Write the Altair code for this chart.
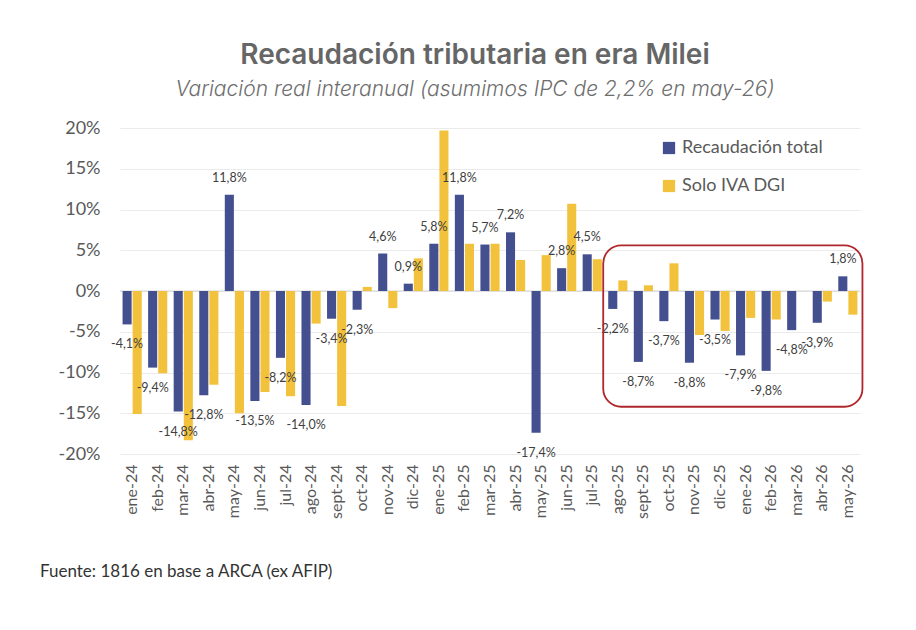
import altair as alt
import pandas as pd

months = ["ene-24", "feb-24", "mar-24", "abr-24", "may-24", "jun-24", "jul-24", "ago-24",
          "sept-24", "oct-24", "nov-24", "dic-24", "ene-25", "feb-25", "mar-25", "abr-25",
          "may-25", "jun-25", "jul-25", "ago-25", "sept-25", "oct-25", "nov-25", "dic-25",
          "ene-26", "feb-26", "mar-26", "abr-26", "may-26"]
total = [-4.1, -9.4, -14.8, -12.8, 11.8, -13.5, -8.2, -14.0, -3.4, -2.3, 4.6, 0.9,
         5.8, 11.8, 5.7, 7.2, -17.4, 2.8, 4.5, -2.2, -8.7, -3.7, -8.8, -3.5,
         -7.9, -9.8, -4.8, -3.9, 1.8]
iva = [-15.1, -10.1, -18.3, -11.5, -15.0, -12.4, -12.9, -4.0, -14.1, 0.5, -2.1, 4.0,
       19.7, 5.8, 5.8, 3.8, 4.4, 10.7, 3.9, 1.3, 0.7, 3.4, -5.4, -4.9,
       -3.3, -3.5, None, -1.3, -2.9]
series = ["Recaudación total", "Solo IVA DGI"]
colors = ["#434F8E", "#F3C23D"]
y_ticks = [-20, -15, -10, -5, 0, 5, 10, 15, 20]
title = "Recaudación tributaria en era Milei"
subtitle = "Variación real interanual (asumimos IPC de 2,2% en may-26)"
note = "Fuente: 1816 en base a ARCA (ex AFIP)"
# highlighted period box
box_start, box_end = "ago-25", "may-26"
box_top, box_bottom = 5.6, -14.2

rows = []
for m, t, v in zip(months, total, iva):
    rows.append({"mes": m, "serie": series[0], "valor": t,
                 "etiqueta": f"{t:.1f}".replace(".", ",") + "%"})
    if v is not None:
        rows.append({"mes": m, "serie": series[1], "valor": v, "etiqueta": ""})
df = pd.DataFrame(rows)

FONT = "Lato"
GRAY = "#595959"

xscale = alt.Scale(domain=months, paddingInner=0.25, paddingOuter=0.1)
xoff = alt.Scale(domain=series, paddingInner=0.1)
x_enc = alt.X("mes:N", scale=xscale, sort=months,
              axis=alt.Axis(title=None, labelAngle=-90, labelFontSize=16, labelFont=FONT,
                            labelColor=GRAY, domain=False, ticks=False, labelPadding=10,
                            grid=False))
y_enc = alt.Y("valor:Q", scale=alt.Scale(domain=[-20, 20], nice=False),
              axis=alt.Axis(title=None, values=y_ticks, labelExpr="datum.value + '%'",
                            labelFontSize=18, labelFont=FONT, labelColor=GRAY,
                            domain=False, ticks=False, labelPadding=20,
                            grid=True, gridColor="#ebebeb", gridWidth=1))

base = alt.Chart(df)

bars = base.mark_bar().encode(
    x=x_enc,
    y=y_enc,
    xOffset=alt.XOffset("serie:N", scale=xoff, sort=series),
    color=alt.Color("serie:N", scale=alt.Scale(domain=series, range=colors),
                    legend=alt.Legend(orient="none", legendX=540, legendY=11, title=None,
                                      symbolType="square", symbolSize=150,
                                      labelFontSize=18, labelFont=FONT, labelColor=GRAY,
                                      labelOffset=4, rowPadding=20, symbolStrokeWidth=0)),
)

zero = alt.Chart(pd.DataFrame({"z": [0]})).mark_rule(color="#d4d4d4", strokeWidth=1.2).encode(
    y=alt.Y("z:Q"))

lab_pos = base.transform_filter(
    (alt.datum.serie == series[0]) & (alt.datum.valor >= 0)
).mark_text(fontSize=12.5, font=FONT, color="#404040", dy=-17).encode(
    x=alt.X("mes:N", sort=months),
    xOffset=alt.XOffset("serie:N", sort=series),
    y="valor:Q",
    text="etiqueta:N",
)
lab_neg = base.transform_filter(
    (alt.datum.serie == series[0]) & (alt.datum.valor < 0)
).mark_text(fontSize=12.5, font=FONT, color="#404040", dy=20).encode(
    x=alt.X("mes:N", sort=months),
    xOffset=alt.XOffset("serie:N", sort=series),
    y="valor:Q",
    text="etiqueta:N",
)

box = alt.Chart(pd.DataFrame({"a": [box_start], "b": [box_end],
                              "t": [box_top], "u": [box_bottom]})).mark_rect(
    fillOpacity=0, stroke="#B0272B", strokeWidth=1.8, cornerRadius=18, xOffset=-5, x2Offset=5
).encode(
    x=alt.X("a:N", sort=months, bandPosition=0),
    x2=alt.X2("b:N", bandPosition=1),
    y="t:Q",
    y2="u:Q",
)

foot = alt.Chart(pd.DataFrame({"t": [note]})).mark_text(
    align="left", baseline="middle", fontSize=17, font=FONT, color="#333333"
).encode(text="t:N", x=alt.value(-80), y=alt.value(444))

chart = alt.layer(zero, bars, lab_pos, lab_neg, box, foot).properties(
    width=740, height=326,
    autosize=alt.AutoSizeParams(type="none"),
    padding={"left": 120, "top": 128, "right": 56, "bottom": 176},
    title=alt.TitleParams(text=title, subtitle=subtitle, anchor="middle", dx=-15,
                          font="Inter", fontSize=28, fontWeight=600, color="#666666",
                          subtitleFont="Inter", subtitleFontSize=21,
                          subtitleFontStyle="italic", subtitleColor="#6e6e6e",
                          subtitleFontWeight=300, subtitlePadding=9, offset=19),
).configure_view(stroke=None).configure_title(limit=0)

chart.save("out.html", embed_options={"renderer": "svg", "actions": False})
